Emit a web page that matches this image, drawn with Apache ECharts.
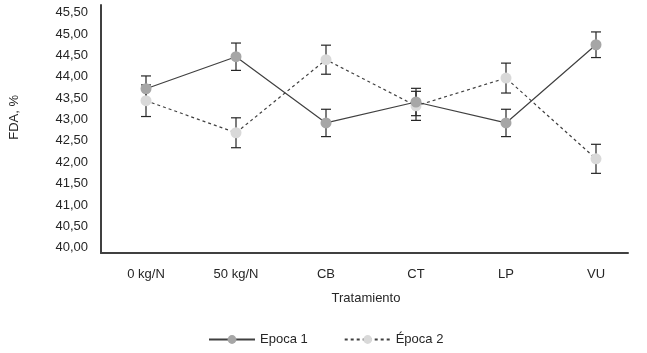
<!DOCTYPE html>
<html><head><meta charset="utf-8">
<script src="https://cdn.jsdelivr.net/npm/echarts@6/dist/echarts.min.js"></script>
<style>html,body{margin:0;padding:0;background:#fff}#c{width:647px;height:353px}</style>
</head><body><div id="c"></div>
<script>
const categories = ['0 kg/N', '50 kg/N', 'CB', 'CT', 'LP', 'VU'];
const epoca1 = [43.72, 44.47, 42.92, 43.41, 42.92, 44.75];
const epoca2 = [43.44, 42.69, 44.40, 43.32, 43.97, 42.08];
const err1 = [0.30, 0.32, 0.32, 0.32, 0.32, 0.30];
const err2 = [0.37, 0.35, 0.34, 0.34, 0.35, 0.34];
const seriesNames = ['Epoca 1', 'Época 2'];
const yMin = 40, yMax = 45.5, yStep = 0.5;

const FONT = 'Liberation Sans, Arial, sans-serif';
const chart = echarts.init(document.getElementById('c'));

function errData(vals, errs) { return vals.map((v, i) => [i, v - errs[i], v + errs[i]]); }
function renderErr(params, api) {
  const x = api.coord([api.value(0), api.value(1)])[0];
  const lo = api.coord([api.value(0), api.value(1)])[1];
  const hi = api.coord([api.value(0), api.value(2)])[1];
  const w = 5;
  const st = { stroke: '#262626', lineWidth: 1.2 };
  return { type: 'group', children: [
    { type: 'line', shape: { x1: x, y1: lo, x2: x, y2: hi }, style: st },
    { type: 'line', shape: { x1: x - w, y1: lo, x2: x + w, y2: lo }, style: st },
    { type: 'line', shape: { x1: x - w, y1: hi, x2: x + w, y2: hi }, style: st }
  ]};
}

chart.setOption({
  animation: false,
  textStyle: { fontFamily: FONT },
  grid: [
    { left: 101, right: 6, top: 12.7, bottom: 105.3 },
    { left: 101, right: 19, top: 5, bottom: 100 }
  ],
  xAxis: [
    { type: 'category', gridIndex: 0, data: categories, boundaryGap: true,
      axisLine: { show: false }, axisTick: { show: false },
      axisLabel: { color: '#262626', fontSize: 13, margin: 20, fontFamily: FONT },
      name: 'Tratamiento', nameLocation: 'middle', nameGap: 44,
      nameTextStyle: { color: '#262626', fontSize: 13, fontFamily: FONT, padding: [0, 10, 0, 0] } },
    { type: 'value', gridIndex: 1, min: 0, max: 1,
      axisLine: { show: true, lineStyle: { color: '#404040', width: 2 } },
      axisTick: { show: false }, axisLabel: { show: false }, splitLine: { show: false } }
  ],
  yAxis: [
    { type: 'value', gridIndex: 0, min: yMin, max: yMax, interval: yStep,
      axisLine: { show: false }, axisTick: { show: false }, splitLine: { show: false },
      axisLabel: { color: '#262626', fontSize: 13, margin: 13, fontFamily: FONT,
        formatter: v => v.toFixed(2).replace('.', ',') } },
    { type: 'value', gridIndex: 1, min: 0, max: 1,
      axisLine: { show: true, lineStyle: { color: '#404040', width: 2 } },
      axisTick: { show: false }, axisLabel: { show: false }, splitLine: { show: false } }
  ],
  legend: {
    data: seriesNames, left: 203, top: 328, itemWidth: 46, itemHeight: 11, itemGap: 36,
    textStyle: { color: '#262626', fontSize: 13, fontFamily: FONT }
  },
  graphic: [
    { type: 'text', left: 8, top: 95, rotation: Math.PI / 2,
      style: { text: 'FDA, %', fill: '#262626', font: '13px ' + FONT } }
  ],
  series: [
    { type: 'custom', xAxisIndex: 0, yAxisIndex: 0, z: 1, renderItem: renderErr,
      data: errData(epoca1, err1), silent: true },
    { type: 'custom', xAxisIndex: 0, yAxisIndex: 0, z: 1, renderItem: renderErr,
      data: errData(epoca2, err2), silent: true },
    { name: seriesNames[0], type: 'line', xAxisIndex: 0, yAxisIndex: 0, z: 3, data: epoca1,
      symbol: 'circle', symbolSize: 11,
      lineStyle: { color: '#404040', width: 1.2, type: 'solid' },
      itemStyle: { color: '#a6a6a6', borderWidth: 0 } },
    { name: seriesNames[1], type: 'line', xAxisIndex: 0, yAxisIndex: 0, z: 2, data: epoca2,
      symbol: 'circle', symbolSize: 11,
      lineStyle: { color: '#404040', width: 1.2, type: [3, 3] },
      itemStyle: { color: '#d9d9d9', borderWidth: 0 } }
  ]
});
</script></body></html>
